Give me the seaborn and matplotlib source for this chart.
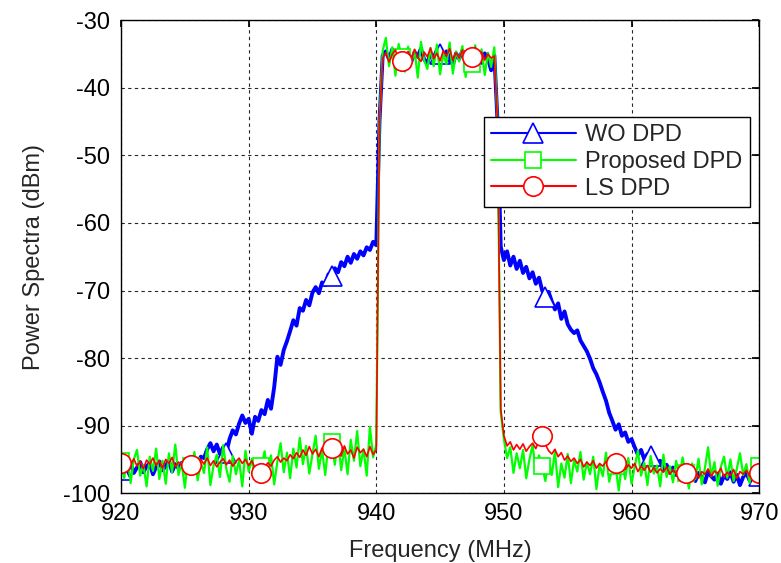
import numpy as np
import pandas as pd
import matplotlib
matplotlib.use("Agg")
import matplotlib.pyplot as plt
import seaborn as sns

# Spectra, 0.25 MHz steps from 920 to 970 MHz
wo_dpd = [
    -96.5, -95.8, -96.8, -95.5, -97.0, -96.2, -95.4, -96.9, -96.0, -95.6,
    -97.2, -96.1, -95.3, -96.6, -96.0, -95.2, -96.8, -95.7, -96.3, -95.5,
    -96.2, -95.4, -96.0, -94.9, -95.7, -94.6, -94.8, -93.5, -92.6, -93.8,
    -92.8, -94.2, -93.2, -94.0, -92.0, -90.7, -91.3, -89.7, -88.5, -89.6,
    -89.0, -91.2, -88.7, -89.3, -87.7, -88.3, -86.2, -87.5, -84.3, -79.8,
    -81.0, -78.8, -77.5, -76.0, -74.4, -75.2, -72.6, -73.0, -71.4, -72.2,
    -70.3, -69.5, -70.4, -68.8, -69.2, -67.6, -67.8, -66.7, -67.3, -65.8,
    -66.4, -65.0, -65.9, -64.6, -65.3, -64.2, -64.8, -63.6, -64.0, -62.8,
    -63.3, -45.0,
    -35.2, -34.6, -35.8, -34.3, -35.5, -34.9, -35.9, -34.5, -35.3, -36.1,
    -34.7, -35.4, -34.2, -35.8, -36.4, -34.8, -35.6, -34.4, -35.0, -36.0,
    -34.6, -35.5, -36.6, -34.9, -35.7, -34.5, -35.3, -36.2, -35.0, -34.6,
    -35.8, -36.3, -34.9, -35.6, -37.4, -35.2, -45.0,
    -63.5, -65.5, -64.2, -66.3, -65.0, -66.8, -65.6, -67.4, -66.5, -68.2,
    -67.3, -69.0, -68.1, -70.0, -71.0, -70.2, -71.6, -72.8, -71.9, -74.2,
    -73.1, -75.0, -75.8, -76.3, -75.9, -77.4, -78.2, -79.0, -80.1, -81.5,
    -82.4, -83.6, -85.0, -86.3, -88.1, -89.3, -90.6, -89.8, -91.5, -91.0,
    -92.4, -92.0, -93.2, -94.3, -93.6, -95.0, -94.2, -94.5, -95.4, -96.0,
    -95.2, -96.5, -95.8, -97.0, -96.2, -97.3, -96.6, -97.5,
    -96.9, -97.8, -97.2, -98.2, -97.0, -97.6, -98.4, -96.8, -97.5, -98.0,
    -97.1, -98.6, -97.4, -97.9, -96.9, -98.3, -97.3, -98.8, -97.6, -97.0,
    -98.1, -97.4, -97.8, -97.5,
]

proposed_dpd = [
    -95.3, -97.8, -94.2, -98.5, -95.0, -93.6, -97.4, -95.8, -99.0, -94.6,
    -96.7, -93.4, -97.9, -95.2, -98.6, -94.1, -96.9, -92.8, -97.3, -95.5,
    -99.2, -94.8, -96.0, -93.9, -98.1, -95.4, -97.0, -93.2, -98.8, -95.9,
    -94.3, -97.6, -92.9, -96.4, -98.3, -94.5, -97.2, -95.1, -99.0, -93.7,
    -96.8, -94.9, -98.0, -95.6, -96.0, -93.8, -97.5, -94.4, -98.7, -95.3,
    -92.6, -96.9, -94.0, -97.8, -93.4, -96.2, -91.8, -95.7, -93.0, -97.1,
    -94.2, -91.5, -96.4, -93.6, -97.3, -92.7, -92.4, -95.8, -91.9, -96.6,
    -93.3, -97.2, -92.1, -95.2, -90.8, -96.0, -93.5, -97.4, -90.2, -94.7,
    -92.8, -45.0,
    -34.5, -32.6, -36.8, -34.0, -38.2, -33.5, -35.5, -37.6, -33.9, -36.3,
    -34.4, -38.5, -33.2, -35.9, -37.2, -34.1, -36.8, -33.6, -38.0, -34.9,
    -36.5, -33.3, -37.9, -34.6, -36.1, -33.8, -38.4, -35.2, -36.5, -33.7,
    -37.3, -34.3, -38.1, -34.8, -36.9, -34.0, -45.0,
    -88.0, -92.0, -94.8, -93.2, -97.0, -94.1, -96.3, -93.6, -97.8, -95.0,
    -92.9, -96.7, -94.4, -96.0, -98.2, -94.9, -97.3, -93.8, -99.1, -95.6,
    -97.7, -94.2, -98.5, -95.1, -96.8, -93.9, -98.0, -95.4, -97.2, -94.6,
    -99.4, -95.8, -97.5, -94.0, -98.3, -96.2, -96.0, -99.6, -95.3, -97.9,
    -94.8, -98.6, -96.1, -93.7, -97.4, -95.5, -98.8, -94.5, -97.1, -95.9,
    -99.0, -94.3, -97.6, -96.0, -98.4, -95.2, -97.8, -94.7, -97.0, -99.3,
    -95.6, -97.9, -94.9, -98.7, -96.3, -93.2, -97.5, -95.4, -98.9, -96.1,
    -94.6, -97.7, -95.0, -98.2, -96.4, -94.1, -97.3, -95.7, -98.5, -95.2,
    -97.0, -96.0,
]

ls_dpd = [
    -95.5, -96.2, -95.0, -95.8, -94.9, -96.0, -95.3, -96.4, -95.1, -95.7,
    -94.8, -95.9, -95.2, -96.3, -95.0, -95.6, -94.7, -96.1, -95.4, -95.9,
    -95.1, -96.0, -95.8, -95.3, -96.2, -95.0, -95.7, -94.8, -95.9, -95.2,
    -96.1, -95.4, -94.9, -95.8, -95.1, -96.0, -95.3, -94.8, -95.6, -95.0,
    -95.9, -95.2, -96.3, -96.6, -97.0, -96.2, -95.5, -96.0, -95.1, -94.6,
    -95.4, -94.8, -95.2, -94.3, -94.9, -94.0, -94.7, -93.6, -94.4, -93.1,
    -94.2, -93.5, -94.6, -93.3, -94.0, -93.7, -93.3, -94.1, -93.4, -94.5,
    -93.0, -94.2, -93.6, -94.8, -93.2, -94.0, -93.5, -94.6, -93.1, -94.3,
    -93.6, -45.0,
    -35.6, -34.8, -36.2, -35.0, -34.4, -35.9, -36.0, -35.2, -34.6, -35.8,
    -34.3, -35.5, -36.1, -34.7, -35.4, -34.1, -35.7, -34.9, -36.0, -34.5,
    -35.3, -34.2, -35.9, -34.8, -35.6, -34.4, -36.2, -35.1, -35.5, -34.0,
    -35.4, -34.7, -35.9, -35.0, -35.6, -35.3, -45.0,
    -87.5, -91.5, -93.0, -92.4, -93.6, -92.8, -93.5, -92.7, -93.8, -93.1,
    -92.6, -93.4, -92.2, -91.5, -92.8, -93.7, -94.2, -93.5, -94.6, -94.0,
    -95.1, -94.5, -95.3, -94.8, -95.6, -95.0, -96.1, -95.4, -95.9, -95.2,
    -96.3, -95.6, -96.0, -95.3, -96.4, -95.7, -95.5, -96.2, -95.4, -96.5,
    -95.8, -96.3, -95.6, -96.8, -96.0, -96.6, -95.9, -96.9, -96.2, -97.0,
    -96.4, -96.9, -96.1, -97.2, -96.5, -97.1, -96.3, -97.4, -97.0, -96.5,
    -97.3, -96.6, -97.8, -96.8, -97.2, -96.4, -97.5, -96.7, -97.1, -96.3,
    -97.6, -96.9, -97.4, -96.5, -97.8, -96.8, -97.2, -96.6, -97.5, -96.9,
    -97.3, -97.0,
]

freq = np.linspace(920, 970, len(wo_dpd))

# marker positions (sample indices)
tri_idx = [0, 33, 66, 100, 133, 166, 200]
circ_idx = [0, 22, 44, 66, 88, 110, 132, 155, 177, 200]

x_ticks = [920, 930, 940, 950, 960, 970]
y_ticks = [-100, -90, -80, -70, -60, -50, -40, -30]

sns.set_theme(style="white")
plt.rcParams['font.family'] = ['Liberation Sans', 'DejaVu Sans']
plt.rcParams['axes.unicode_minus'] = False

fig = plt.figure(figsize=(7.81, 5.63), dpi=100)
ax = fig.add_axes([0.155, 0.124, 0.817, 0.84])

common = dict(ax=ax, estimator=None, sort=False, legend=False)
sns.lineplot(x=freq, y=wo_dpd, color='#0000ff', linewidth=2.8, marker='^',
             markevery=tri_idx, markersize=15, markerfacecolor='white',
             markeredgecolor='#0000ff', markeredgewidth=1.2, label='WO DPD', **common)
sns.lineplot(x=freq, y=proposed_dpd, color='#00ff00', linewidth=1.6, marker='s',
             markevery=circ_idx, markersize=11, markerfacecolor='white',
             markeredgecolor='#00ff00', markeredgewidth=1.2, label='Proposed DPD', **common)
sns.lineplot(x=freq, y=ls_dpd, color='#ff0000', linewidth=1.2, marker='o',
             markevery=circ_idx, markersize=14, markerfacecolor='white',
             markeredgecolor='#ff0000', markeredgewidth=1.2, label='LS DPD', **common)

ax.set_xlim(920, 970)
ax.set_ylim(-100, -30)
ax.set_xticks(x_ticks)
ax.set_yticks(y_ticks)
ax.tick_params(axis='both', labelsize=17, direction='in', length=5, top=True, right=True,
               colors='black')
ax.tick_params(axis='x', pad=7)
ax.tick_params(axis='y', pad=8)
ax.set_xlabel('Frequency (MHz)', fontsize=17, labelpad=11)
ax.set_ylabel('Power Spectra (dBm)', fontsize=17, labelpad=13)
ax.grid(True, color='black', linestyle=(0, (3, 3)), linewidth=0.8, alpha=0.85)
ax.set_axisbelow(True)
for s in ax.spines.values():
    s.set_color('black')
    s.set_linewidth(1.0)

leg = ax.legend(loc='upper right', bbox_to_anchor=(0.985, 0.795), fontsize=17,
                handlelength=3.6, handletextpad=0.4, labelspacing=0.2,
                borderpad=0.3, fancybox=False, framealpha=1, borderaxespad=0)
leg.get_frame().set_edgecolor('black')
leg.get_frame().set_linewidth(1.0)
for h in leg.get_lines():
    h.set_linewidth(1.5)

fig.savefig('out.png', dpi=100)
